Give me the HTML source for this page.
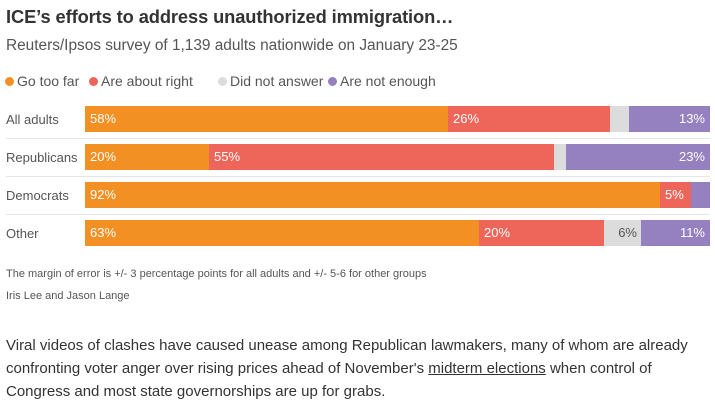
<!DOCTYPE html>
<html><head><style>
body{margin:0;width:715px;height:404px;background:#fff;font-family:"Liberation Sans",sans-serif;color:#404040;position:relative;overflow:hidden}
div{position:absolute}
.t{left:6px;top:6px;font-size:18.3px;font-weight:bold;color:#333;letter-spacing:-0.1px}
.s{left:6px;top:37px;font-size:15.4px;color:#555}
.lg{top:73px;font-size:14px;color:#555}
.dot{display:inline-block;width:9px;height:9px;border-radius:50%;margin-right:3px;vertical-align:0}
.lab{left:6px;font-size:13px;color:#555}
.seg{height:26px;font-size:13px;color:#fff;line-height:26px;box-sizing:border-box}
.o{background:#f39024}.r{background:#ee665a}.g{background:#dcdcdc;color:#555}.p{background:#9580c0}
.sep{left:6px;width:704px;height:1px;background:#e6e6e6}
.n{left:6px;font-size:11px;color:#555}
.para{left:6px;top:334px;width:700px;font-size:15px;line-height:23px;color:#333}
</style></head><body>
<div class="t">ICE’s efforts to address unauthorized immigration…</div>
<div class="s">Reuters/Ipsos survey of 1,139 adults nationwide on January 23-25</div>
<div class="lg" style="left:5px"><span class="dot" style="background:#f39024"></span>Go too far</div>
<div class="lg" style="left:89px"><span class="dot" style="background:#ee665a"></span>Are about right</div>
<div class="lg" style="left:218px"><span class="dot" style="background:#dcdcdc"></span>Did not answer</div>
<div class="lg" style="left:328px"><span class="dot" style="background:#9580c0"></span>Are not enough</div>

<div class="lab" style="top:112px">All adults</div>
<div class="seg o" style="left:85px;top:106px;width:363px;padding-left:5px">58%</div>
<div class="seg r" style="left:448px;top:106px;width:162px;padding-left:5px">26%</div>
<div class="seg g" style="left:610px;top:106px;width:19px"></div>
<div class="seg p" style="left:629px;top:106px;width:81px;text-align:right;padding-right:5px">13%</div>
<div class="sep" style="top:138px"></div>

<div class="lab" style="top:150px">Republicans</div>
<div class="seg o" style="left:85px;top:144px;width:124px;padding-left:5px">20%</div>
<div class="seg r" style="left:209px;top:144px;width:345px;padding-left:5px">55%</div>
<div class="seg g" style="left:554px;top:144px;width:12px"></div>
<div class="seg p" style="left:566px;top:144px;width:144px;text-align:right;padding-right:5px">23%</div>
<div class="sep" style="top:176px"></div>

<div class="lab" style="top:188px">Democrats</div>
<div class="seg o" style="left:85px;top:182px;width:575px;padding-left:5px">92%</div>
<div class="seg r" style="left:660px;top:182px;width:31px;padding-left:5px">5%</div>
<div class="seg p" style="left:691px;top:182px;width:19px"></div>
<div class="sep" style="top:214px"></div>

<div class="lab" style="top:226px">Other</div>
<div class="seg o" style="left:85px;top:220px;width:394px;padding-left:5px">63%</div>
<div class="seg r" style="left:479px;top:220px;width:125px;padding-left:5px">20%</div>
<div class="seg g" style="left:604px;top:220px;width:37px;text-align:right;padding-right:4px">6%</div>
<div class="seg p" style="left:641px;top:220px;width:69px;text-align:right;padding-right:5px">11%</div>

<div class="n" style="top:268px">The margin of error is +/- 3 percentage points for all adults and +/- 5-6 for other groups</div>
<div class="n" style="top:290px">Iris Lee and Jason Lange</div>
<div class="para">Viral videos of clashes have caused unease among Republican lawmakers, many of whom are already<br>confronting voter anger over rising prices ahead of November's <u>midterm elections</u> when control of<br>Congress and most state governorships are up for grabs.</div>
</body></html>
